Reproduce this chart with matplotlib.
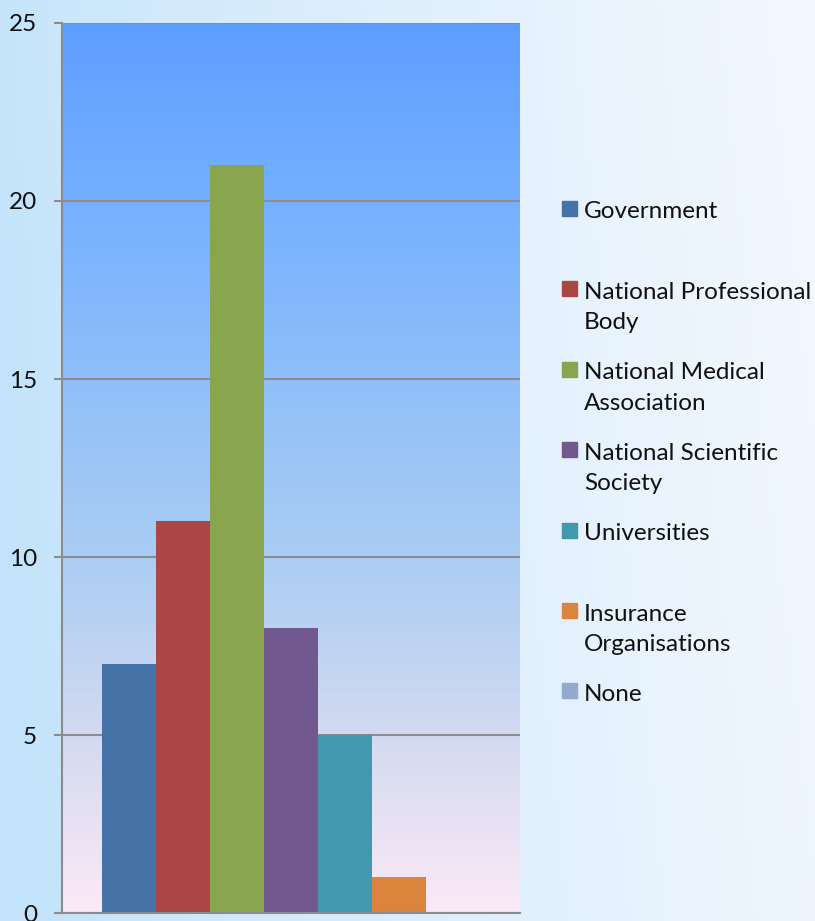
import numpy as np
import matplotlib
matplotlib.use("Agg")
import matplotlib.pyplot as plt
from matplotlib.colors import LinearSegmentedColormap
from matplotlib.patches import Rectangle

# data
categories = ["Government", "National Professional\nBody", "National Medical\nAssociation",
              "National Scientific\nSociety", "Universities", "Insurance\nOrganisations", "None"]
values = [7, 11, 21, 8, 5, 1, 0]
colors = ["#4572a7", "#aa4643", "#89a54e", "#71588f", "#4198af", "#db843d", "#93a9cf"]
y_ticks = [0, 5, 10, 15, 20, 25]

plt.rcParams["font.family"] = ["Lato", "DejaVu Sans"]

W, H = 815, 921
fig = plt.figure(figsize=(W / 100, H / 100), dpi=100)

# page background: soft light-blue gradient, paler towards the right
bg = fig.add_axes([0, 0, 1, 1], zorder=-10)
xx = np.linspace(0, 1, 200)
yy = np.linspace(0, 1, 200)
X, Y = np.meshgrid(xx, yy)
left_col = np.array([194, 227, 250]) / 255
right_col = np.array([241, 247, 254]) / 255
t = np.clip(X ** 0.8 + 0.1 * (Y - 0.5), 0, 1)[..., None]
img = left_col * (1 - t) + right_col * t
bg.imshow(img, extent=[0, 1, 0, 1], aspect="auto", origin="lower")
bg.axis("off")

# plot area
ax = fig.add_axes([62 / W, 1 - 913 / H, (520 - 62) / W, (913 - 23) / H])
plot_cmap = LinearSegmentedColormap.from_list("plotbg", [
    (0.0, (94 / 255, 158 / 255, 255 / 255)),
    (0.2, (117 / 255, 176 / 255, 255 / 255)),
    (0.6, (170 / 255, 205 / 255, 243 / 255)),
    (0.8, (210 / 255, 218 / 255, 240 / 255)),
    (1.0, (252 / 255, 233 / 255, 247 / 255)),
])
grad = np.linspace(0, 1, 256)[:, None]
ax.imshow(grad, cmap=plot_cmap, extent=[-0.5, 0.5, 0, 25], aspect="auto",
          origin="upper", zorder=0)

# one cluster of 7 series, gap width 150%
n = len(values)
w = 1 / (n + 1.5)
xs = -0.5 + 0.75 * w + w * (np.arange(n) + 0.5)
ax.bar(xs, values, width=w, color=colors, zorder=3, linewidth=0)

ax.set_xlim(-0.5, 0.5)
ax.set_ylim(0, 25)
ax.set_yticks(y_ticks)
ax.set_xticks([])
ax.yaxis.grid(True, color="#8c8c8c", linewidth=1.5, zorder=2)
ax.set_axisbelow(False)
for s in ["top", "right"]:
    ax.spines[s].set_visible(False)
for s in ["left", "bottom"]:
    ax.spines[s].set_color("#8c8c8c")
    ax.spines[s].set_linewidth(1.5)
    ax.spines[s].set_zorder(4)
ax.tick_params(axis="y", length=6, width=1.5, color="#8c8c8c", pad=12,
               labelsize=17.5, labelcolor="#111111")

# legend, drawn by hand so the swatch sits on the first text line
y0 = 1 - 208.5 / H
step = 80.4 / H
for i, (lab, c) in enumerate(zip(categories, colors)):
    y = y0 - i * step
    fig.patches.append(Rectangle((562 / W, y - 7.5 / H), 15 / W, 15 / H,
                                 transform=fig.transFigure, color=c))
    fig.text(584 / W, y + 7 / H, lab, fontsize=17.5, va="top", ha="left",
             color="#111111", linespacing=1.55)

fig.savefig("out.png", dpi=100)
